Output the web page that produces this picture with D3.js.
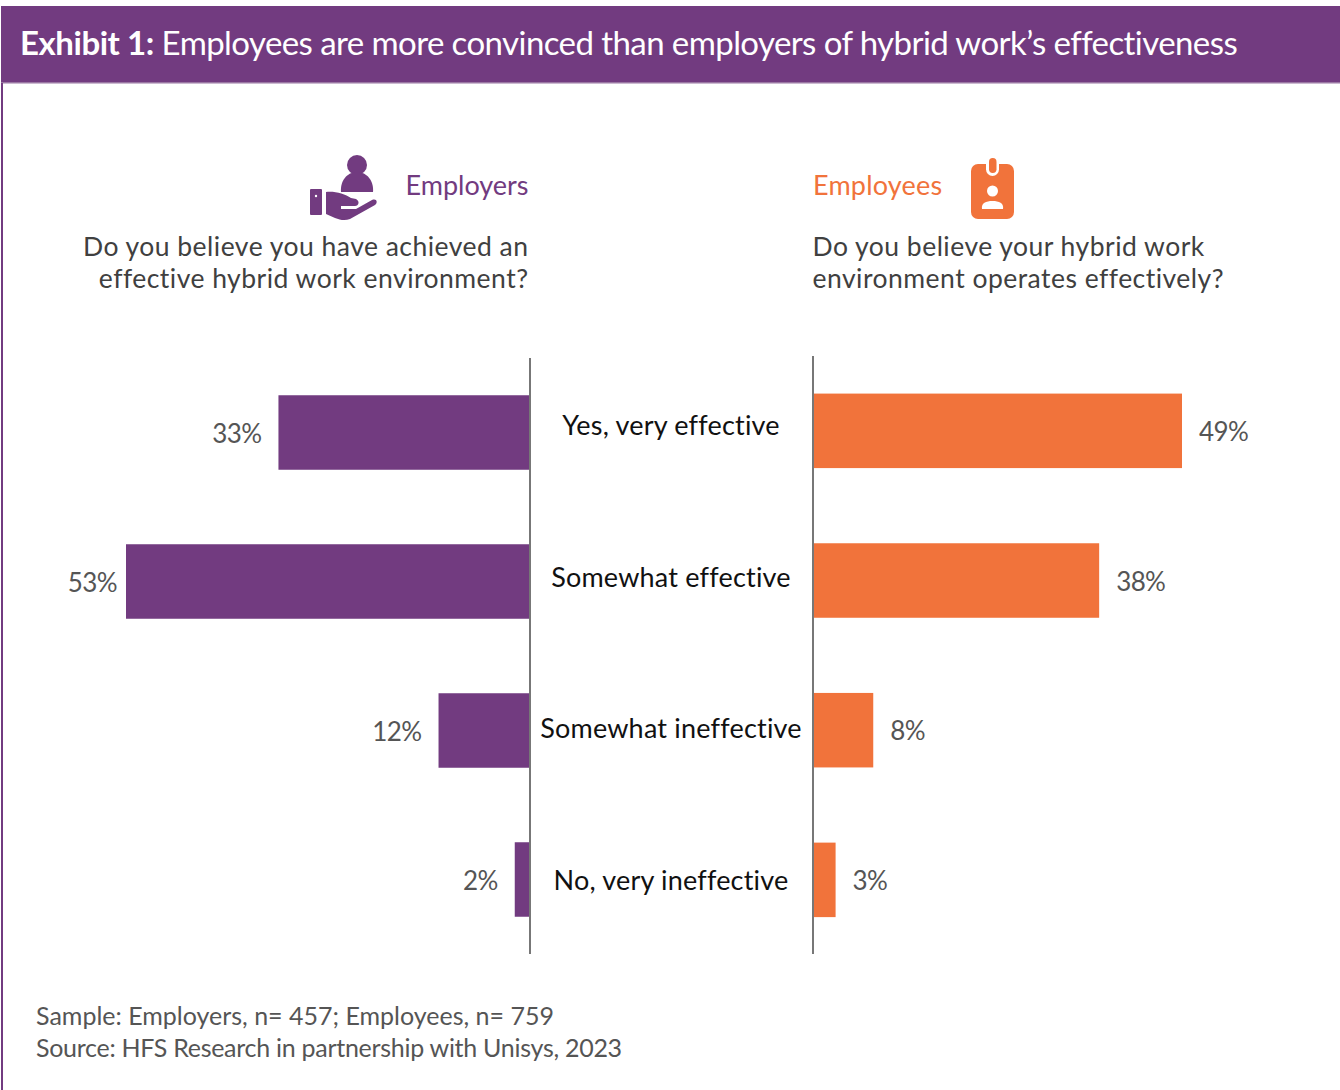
<!DOCTYPE html>
<html><head><meta charset="utf-8">
<style>html,body{margin:0;padding:0;background:#fff}svg{display:block}text{font-family:Lato,"Open Sans",sans-serif}</style>
<script src="https://cdn.jsdelivr.net/npm/d3@7"></script></head>
<body><script>
const categories = ["Yes, very effective","Somewhat effective","Somewhat ineffective","No, very ineffective"];
const employers = [33,53,12,2];
const employees = [49,38,8,3];
const purple="#723B80", orange="#F1733B";
const svg=d3.select("body").append("svg").attr("width",1340).attr("height",1090);
const xL=d3.scaleLinear().domain([0,53]).range([530,126]);
const xR=d3.scaleLinear().domain([0,49]).range([813,1182]);
const yL=d3.scaleBand().domain(categories).range([358,954]);
const yR=d3.scaleBand().domain(categories).range([356,954.7]);
const barH=74.5;

// header band and left rule
svg.append("rect").attr("x",1).attr("y",6).attr("width",1339).attr("height",77).attr("fill",purple);
svg.append("rect").attr("x",1).attr("y",82).attr("width",1339).attr("height",1.5).attr("fill","#9A77A3");
svg.append("rect").attr("x",1).attr("y",83).attr("width",2).attr("height",1007).attr("fill",purple);
const title=svg.append("text").attr("x",20).attr("y",55).attr("fill","#fff").attr("font-size",33);
title.append("tspan").attr("font-weight",700).attr("letter-spacing",-0.45).text("Exhibit 1:");
title.append("tspan").attr("letter-spacing",-0.58).text(" Employees are more convinced than employers of hybrid work\u2019s effectiveness");

const tx=(s,xp,yp,o)=>svg.append("text").attr("x",xp).attr("y",yp).text(s)
  .attr("font-size",o.size).attr("fill",o.fill).attr("text-anchor",o.anchor||"start")
  .attr("letter-spacing",o.ls||0);

const question={size:26.5,fill:"#404040",ls:0.48};
tx("Employers",528.5,195,{size:27,fill:purple,anchor:"end"});
tx("Employees",813,195,{size:27,fill:orange,ls:0.2});
tx("Do you believe you have achieved an",528.5,256,{...question,anchor:"end"});
tx("effective hybrid work environment?",528.5,288,{...question,anchor:"end"});
tx("Do you believe your hybrid work",812.5,256,question);
tx("environment operates effectively?",812.5,288,question);

// mirrored bars
svg.selectAll("rect.employers").data(categories).join("rect").attr("class","employers")
  .attr("x",(c,i)=>xL(employers[i])).attr("y",c=>yL(c)+yL.bandwidth()/2-barH/2)
  .attr("width",(c,i)=>xL(0)-xL(employers[i])).attr("height",barH).attr("fill",purple);
svg.selectAll("rect.employees").data(categories).join("rect").attr("class","employees")
  .attr("x",xR(0)).attr("y",c=>yR(c)+yR.bandwidth()/2-barH/2)
  .attr("width",(c,i)=>xR(employees[i])-xR(0)).attr("height",barH).attr("fill",orange);

const rowY=[435,587,738,890];
const value={size:26,fill:"#555",ls:-0.6};
categories.forEach((c,i)=>{
  // the longest bar keeps its label closer so it stays inside the page margin
  const gap=employers[i]===d3.max(employers)?9:17;
  tx(employers[i]+"%",xL(employers[i])-gap,yL(c)+yL.bandwidth()/2+10,{...value,anchor:"end"});
  tx(employees[i]+"%",xR(employees[i])+17,yR(c)+yR.bandwidth()/2+10,value);
  tx(c,671,rowY[i],{size:27,fill:"#111",anchor:"middle",ls:0.2});
});

// centre axes
svg.append("line").attr("x1",530).attr("x2",530).attr("y1",358).attr("y2",954).attr("stroke","#777").attr("stroke-width",2);
svg.append("line").attr("x1",813).attr("x2",813).attr("y1",356).attr("y2",954).attr("stroke","#777").attr("stroke-width",2);

tx("Sample: Employers, n= 457; Employees, n= 759",36,1025,{size:25,fill:"#555"});
tx("Source: HFS Research in partnership with Unisys, 2023",36,1057,{size:25,fill:"#555",ls:-0.28});

// hand holding a person
const ic=svg.append("g").attr("fill",purple);
ic.append("circle").attr("cx",357).attr("cy",165).attr("r",10);
ic.append("path").attr("d","M341 192 C340 181 347 172 357 172 C367 172 374 181 373 192 Z");
ic.append("rect").attr("x",310).attr("y",189).attr("width",12).attr("height",26).attr("rx",1);
ic.append("circle").attr("cx",316).attr("cy",196).attr("r",1.2).attr("fill","#fff");
ic.append("path").attr("d","M326 192 C335 191 345 194 351 198 L356 199 C360 201 359 206 355 206 L341 206 L341 209 L356 209 L372 200 C377 198 378 203 375 205 L350 219 C345 221 340 220 335 218 L326 214 Z");

// ID badge
const b=svg.append("g");
b.append("rect").attr("x",971).attr("y",164).attr("width",43).attr("height",55).attr("rx",7).attr("fill",orange);
b.append("rect").attr("x",986).attr("y",156).attr("width",13).attr("height",20).attr("rx",6.5).attr("fill","#fff");
b.append("rect").attr("x",989).attr("y",158).attr("width",7.5).attr("height",15).attr("rx",3.7).attr("fill",orange);
b.append("circle").attr("cx",992.5).attr("cy",191).attr("r",5.5).attr("fill","#fff");
b.append("path").attr("d","M982 209 C981 203 986 201 992.5 201 C999 201 1004 203 1003 209 Z").attr("fill","#fff");
</script></body></html>
